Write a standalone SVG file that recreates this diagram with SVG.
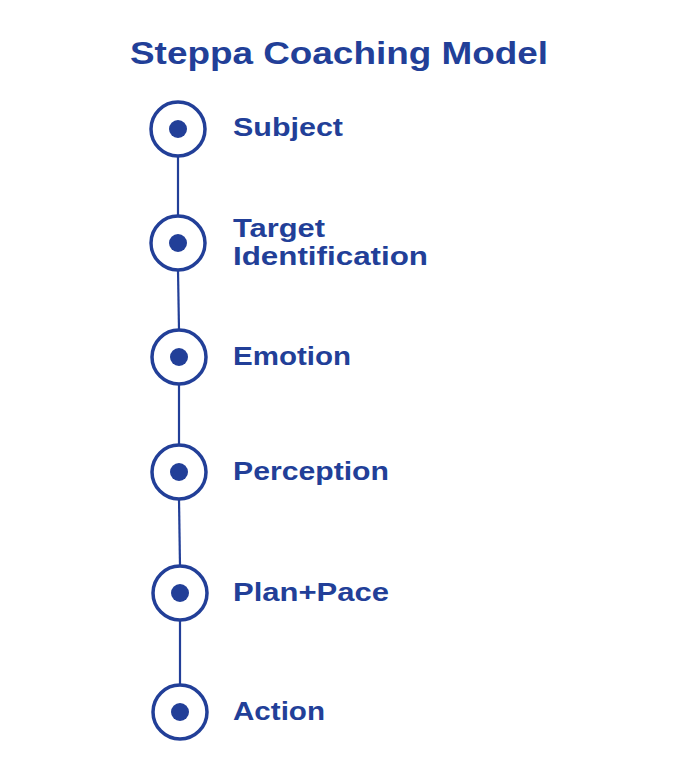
<svg xmlns="http://www.w3.org/2000/svg" width="680" height="781" viewBox="0 0 680 781">
<style>
text{font-family:"Liberation Sans",Arial,sans-serif;font-weight:bold;fill:#223f98}
.lbl{font-size:25px}
.ring{fill:#fff;stroke:#223f98;stroke-width:3.5}
.dot{fill:#223f98}
.conn{stroke:#223f98;stroke-width:2.2}
</style>
<rect width="680" height="781" fill="#fff"/>
<text x="130" y="64" font-size="31" textLength="418" lengthAdjust="spacingAndGlyphs">Steppa Coaching Model</text>
<g id="connectors">
<line class="conn" x1="178" y1="156" x2="178" y2="216"/>
<line class="conn" x1="178" y1="270" x2="179" y2="330"/>
<line class="conn" x1="179" y1="384" x2="179" y2="445"/>
<line class="conn" x1="179" y1="499" x2="180" y2="566"/>
<line class="conn" x1="180" y1="620" x2="180" y2="685"/>
</g>
<g id="subject"><circle class="ring" cx="178" cy="129" r="27"/><circle class="dot" cx="178" cy="129" r="9"/><text class="lbl" x="233" y="136" textLength="110" lengthAdjust="spacingAndGlyphs">Subject</text></g>
<g id="target"><circle class="ring" cx="178" cy="243" r="27"/><circle class="dot" cx="178" cy="243" r="9"/><text class="lbl" x="233" y="237" textLength="92" lengthAdjust="spacingAndGlyphs">Target</text><text class="lbl" x="233" y="265" textLength="195" lengthAdjust="spacingAndGlyphs">Identification</text></g>
<g id="emotion"><circle class="ring" cx="179" cy="357" r="27"/><circle class="dot" cx="179" cy="357" r="9"/><text class="lbl" x="233" y="365" textLength="118" lengthAdjust="spacingAndGlyphs">Emotion</text></g>
<g id="perception"><circle class="ring" cx="179" cy="472" r="27"/><circle class="dot" cx="179" cy="472" r="9"/><text class="lbl" x="233" y="480" textLength="156" lengthAdjust="spacingAndGlyphs">Perception</text></g>
<g id="planpace"><circle class="ring" cx="180" cy="593" r="27"/><circle class="dot" cx="180" cy="593" r="9"/><text class="lbl" x="233" y="601" textLength="156" lengthAdjust="spacingAndGlyphs">Plan+Pace</text></g>
<g id="action"><circle class="ring" cx="180" cy="712" r="27"/><circle class="dot" cx="180" cy="712" r="9"/><text class="lbl" x="233" y="720" textLength="92" lengthAdjust="spacingAndGlyphs">Action</text></g>
</svg>
